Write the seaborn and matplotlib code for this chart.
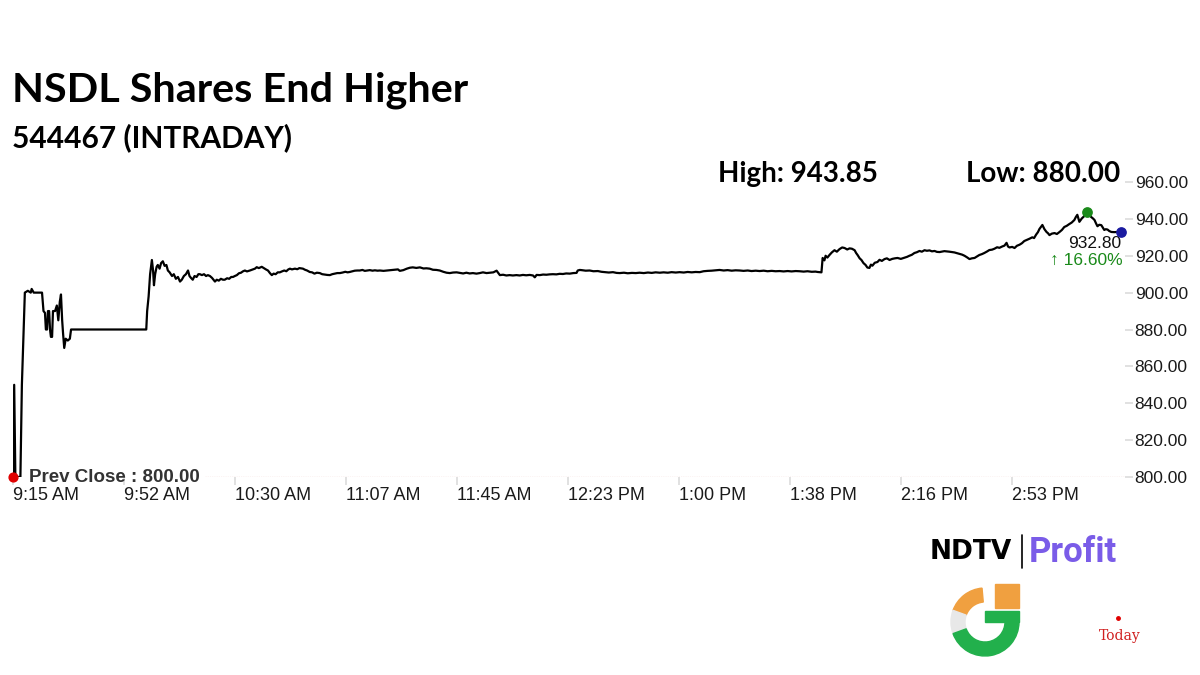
import pandas as pd
import seaborn as sns
import matplotlib.pyplot as plt
from matplotlib.patches import Wedge, Rectangle

# (minutes after 9:15 AM, price)
opening = [
    (0, 800), (0.4, 850), (0.8, 800), (2.5, 800), (3.0, 850), (4.0, 900),
    (5.0, 901), (6.0, 900), (6.3, 902), (7.0, 900), (9.8, 900), (10.3, 890),
    (10.8, 889), (11.1, 880), (11.5, 880), (11.8, 890), (12.2, 890),
    (12.5, 880), (12.8, 876), (13.2, 876), (13.5, 890), (14.2, 890),
    (14.8, 893), (15.3, 885), (15.8, 895), (16.2, 899), (16.6, 885),
    (16.9, 878), (17.3, 870), (17.8, 875), (18.5, 874), (19.2, 875),
    (19.6, 880), (20.0, 880), (45.0, 880),
]
morning = [
    (45.3, 890), (45.8, 898), (46.3, 910), (46.9, 917.7), (47.3, 912),
    (47.6, 904), (48.0, 910), (48.5, 914), (48.9, 915), (49.5, 913),
    (50.0, 916), (50.6, 917), (51.2, 914.5), (51.8, 915), (52.3, 912),
    (52.9, 911), (53.7, 909), (54.3, 910), (55.0, 907.5), (55.7, 908.5),
    (56.4, 906), (57.0, 907), (57.7, 909), (58.4, 910), (59.1, 912),
    (59.6, 909), (60.1, 908), (60.7, 907), (61.3, 909), (62.0, 908.5),
    (62.6, 910), (63.1, 910), (63.8, 909.5), (64.5, 910), (65.2, 909),
    (65.8, 909.5), (66.5, 909), (67.2, 908), (68.2, 906), (68.8, 907),
    (69.5, 906.5), (70.2, 907.5), (70.9, 907), (71.5, 907), (72.3, 907.8),
    (73.0, 907.5), (73.7, 908.5), (74.3, 908.5), (74.9, 909), (75.6, 909.5),
    (76.3, 910.5), (77.0, 910.8), (77.6, 911.5), (78.3, 912), (79.0, 911.5),
    (80.0, 912), (80.8, 912.5), (81.7, 913), (82.3, 913.8), (83.0, 913.3),
    (84.0, 914), (84.8, 913.2), (85.5, 912.5), (86.1, 912), (86.8, 910.5),
    (87.4, 909.5), (88.0, 910.3), (88.7, 910), (89.4, 911), (90.1, 911),
    (90.8, 911.5), (91.6, 912), (92.3, 911.6), (92.9, 912.5), (93.5, 913),
    (94.2, 912.6), (95.2, 913), (96.0, 912.7), (96.7, 913.3), (97.9, 913),
    (98.6, 912.4), (99.3, 912), (100.2, 911.2), (101.0, 911),
    (101.8, 910.3), (102.6, 910.8), (103.6, 910.6), (104.4, 910),
    (105.2, 909.8), (106.1, 909.6), (107.0, 909.5), (107.8, 910),
    (108.6, 910.3), (109.5, 910.6), (110.4, 910.6), (111.3, 910.9),
    (112.2, 911.3), (113.0, 911), (113.7, 911.2), (114.6, 911.6),
    (115.4, 911.9), (116.3, 912), (117.1, 912), (118.0, 912.3),
    (118.8, 911.8), (119.7, 912), (120.5, 912.2), (121.4, 911.9),
    (122.2, 912.1), (123.1, 911.9), (123.9, 912), (125.1, 911.8),
    (126.4, 912), (127.6, 912.2), (128.9, 912.4), (130.0, 912.6),
    (130.6, 911.8), (131.8, 912.2), (133.0, 913), (134.0, 913.5),
    (135.0, 913.7), (136.2, 913.4), (137.4, 913.7), (138.6, 913.1),
    (139.6, 913.2), (140.7, 913), (141.8, 912.4), (143.0, 912.3),
    (144.1, 912), (145.3, 911.3), (146.4, 910.8), (147.5, 910.6),
    (148.6, 910.9), (149.8, 911), (150.9, 910.7), (152.0, 910.4),
    (153.1, 910.8), (154.2, 910.4), (155.3, 910.6), (156.5, 910.3),
    (157.6, 910.6), (158.7, 911), (159.9, 910.6), (161.0, 910.8),
    (162.2, 911), (163.3, 911.9),
]
midday = [
    (164.4, 909.5), (165.5, 909.7), (166.6, 909.3), (167.7, 909.5),
    (168.8, 909.3), (170.0, 909.5), (171.1, 909.3), (172.2, 909.6),
    (173.3, 909.4), (174.5, 909.6), (175.6, 909.3), (176.2, 908.3),
    (176.8, 909.6), (177.9, 909.5), (179.0, 909.8), (180.1, 909.7),
    (181.2, 909.9), (182.3, 910), (183.5, 909.9), (184.6, 910.2),
    (185.7, 910.1), (186.8, 910.4), (188.0, 910.3), (189.2, 910.6),
    (190.3, 910.7), (190.7, 912), (191.4, 912.3), (192.0, 912.2),
    (193.4, 911.9), (194.7, 912), (196.0, 911.6), (197.5, 911.7),
    (198.7, 911.3), (199.8, 911.1), (201.2, 910.9), (202.6, 911.1),
    (203.8, 910.7), (204.9, 910.6), (206.3, 910.8), (207.6, 910.5),
    (209.0, 910.7), (210.3, 910.6), (211.6, 910.8), (213.0, 910.6),
    (214.4, 910.9), (215.7, 910.7), (217.0, 911), (218.4, 910.8),
    (219.7, 911), (221.1, 910.8), (222.4, 911.1), (223.8, 910.9),
    (225.1, 911.1), (226.5, 910.9), (227.8, 911.2), (229.2, 911),
    (230.5, 911.2), (231.9, 911.1), (233.2, 911.6), (234.6, 911.8),
    (235.9, 911.9), (237.3, 912.1), (238.6, 912.3), (240.0, 912),
    (241.3, 912.2), (242.7, 911.9), (244.0, 912.1), (245.4, 912),
    (246.7, 911.8), (248.1, 912), (249.4, 911.7), (250.8, 911.9),
    (252.1, 911.7), (253.5, 911.9), (254.8, 911.6), (256.2, 911.8),
    (257.5, 911.6), (258.9, 911.7), (260.2, 911.5), (261.6, 911.7),
    (262.9, 911.5), (264.3, 911.7), (265.6, 911.6), (267.0, 911.4),
    (268.3, 911.6), (269.7, 911.3), (271.0, 911.4), (271.7, 911.2),
    (273.0, 911.0),
]
afternoon = [
    (273.4, 918.8), (274.0, 917.5), (274.4, 920), (275.0, 919),
    (275.7, 920.4), (276.5, 921.8), (277.4, 923), (278.2, 922.2),
    (279.1, 923.6), (280.0, 924.5), (280.8, 924.2), (281.7, 923.4),
    (282.5, 924), (283.3, 923.8), (284.2, 923), (284.7, 921.5),
    (285.2, 920.4), (285.9, 918.6), (286.5, 917.7), (287.2, 916),
    (287.9, 915), (288.5, 913.6), (289.2, 913.4), (289.7, 915.2),
    (290.2, 914.6), (291.0, 916.2), (291.9, 916.6), (292.6, 917.8),
    (293.4, 917.2), (294.3, 918.2), (295.1, 918.6), (296.0, 917.7),
    (296.9, 918.3), (297.8, 918.6), (298.7, 918.8), (299.8, 918.3),
    (301.0, 918.9), (301.9, 919.4), (302.7, 920), (303.5, 920.5),
    (304.4, 921.5), (305.2, 921.9), (306.1, 922.6), (306.9, 922.2),
    (307.8, 923), (308.6, 922.7), (309.5, 922.9), (310.3, 922.4),
    (311.2, 922.6), (312.0, 922.1), (312.9, 922), (314.5, 922.5),
    (316.2, 922.2), (317.9, 921.8), (319.6, 921), (320.5, 920.6),
    (321.3, 920), (322.1, 919.2), (323.0, 918.2), (323.8, 918.6),
    (324.7, 918.8), (325.5, 919.6), (326.3, 920.4), (327.2, 920.9),
    (328.0, 921.5), (328.9, 922.3), (329.7, 923.1), (330.6, 923.3),
    (331.4, 923.8), (332.3, 924.6), (333.1, 924.3), (334.0, 925),
    (334.8, 925.5), (335.5, 927), (336.0, 925), (336.5, 924.5),
    (337.4, 924.8), (338.2, 924.2), (339.0, 925.4), (339.9, 926),
    (340.7, 926.8), (341.5, 928), (342.2, 928.5), (343.2, 929.2),
    (344.2, 930), (344.8, 929.6), (345.5, 931.5), (346.1, 932.8),
    (346.6, 934.5), (347.1, 935.6), (347.6, 936.7), (348.3, 934.4),
    (349.0, 932.9), (349.5, 932.2), (350.0, 931.2), (350.8, 932),
    (351.7, 932.3), (352.5, 931.8), (353.4, 932.9), (354.2, 934),
    (355.0, 935.6), (355.8, 936.2), (356.7, 937.2), (357.5, 938),
    (358.4, 939.4), (358.9, 941), (359.4, 942.2), (359.8, 940),
    (360.1, 938.4), (360.9, 940.2), (361.8, 941.6), (362.5, 943.85),
    (363.3, 942.3), (364.1, 941), (364.7, 940.2), (365.2, 939.4),
    (365.7, 937.6), (366.2, 936), (366.8, 936.8), (367.5, 936.6),
    (368.0, 935.3), (368.5, 934), (369.0, 934.4), (369.6, 934.2),
    (370.2, 933.4), (370.9, 932.9), (371.9, 932.8), (372.9, 932.9),
    (373.6, 932.8), (374.3, 932.8),
]

tick_minutes = [0, 37.5, 75, 112.5, 150, 187.5, 225, 262.5, 300, 337.5]
tick_labels = ['9:15 AM', '9:52 AM', '10:30 AM', '11:07 AM', '11:45 AM',
               '12:23 PM', '1:00 PM', '1:38 PM', '2:16 PM', '2:53 PM']
price_ticks = [800, 820, 840, 860, 880, 900, 920, 940, 960]

prev_close = 800.00
day_high = 943.85
day_low = 880.00
last_price = 932.80
change_pct = 16.60

title = 'NSDL Shares End Higher'
subtitle = '544467 (INTRADAY)'

sns.set_theme(style='white')
plt.rcParams['font.family'] = ['Liberation Sans', 'DejaVu Sans']

df = pd.DataFrame(opening + morning + midday + afternoon,
                  columns=['minute', 'price'])
high_row = df.loc[df['price'].idxmax()]
last_row = df.iloc[-1]

fig = plt.figure(figsize=(12, 6.75), dpi=100)
ax = fig.add_axes([13 / 1200, 198 / 675, 1112 / 1200, 295 / 675])

sns.lineplot(data=df, x='minute', y='price', ax=ax, color='black',
             linewidth=1.6, estimator=None, sort=False)

# previous close reference line
ax.axhline(prev_close, xmin=(205 - 13) / 1112, xmax=1.0, color='#c0392b',
           linestyle=(0, (1, 1)), linewidth=0.8)
ax.scatter([0], [prev_close], s=40, color='#e00000', zorder=5, clip_on=False)
ax.text(5.5, prev_close, f'Prev Close : {prev_close:.2f}', fontsize=13.5,
        fontweight='bold', color='#333333', va='center', ha='left')

# day high and last traded markers
ax.scatter([high_row['minute']], [high_row['price']], s=45, color='#1a8a1a',
           zorder=5, clip_on=False)
ax.scatter([last_row['minute']], [last_row['price']], s=45,
           color='#1a1aa0', zorder=5, clip_on=False)
ax.text(last_row['minute'] - 9, last_price - 2, f'{last_price:.2f}',
        fontsize=12.5, color='#111111', ha='center', va='top')
ax.text(last_row['minute'] + 0.5, last_price - 11.5,
        f'\u2191 {change_pct:.2f}%', fontsize=12.5, color='#1a8a1a',
        ha='right', va='top')

ax.set_xlim(0, 375.5)
ax.set_ylim(800, 960)
ax.set_xticks(tick_minutes)
ax.set_xticklabels(tick_labels, ha='left', fontsize=13, color='#1a1a1a')
ax.yaxis.tick_right()
ax.set_yticks(price_ticks)
ax.set_yticklabels([f'{p:.2f}' for p in price_ticks], fontsize=12.5,
                   color='#1a1a1a')
ax.tick_params(axis='x', length=6, color='#dddddd', pad=1, bottom=True)
ax.tick_params(axis='y', length=6, color='#dddddd', pad=1, right=True)
ax.set_xlabel('')
ax.set_ylabel('')
for side in ['top', 'left', 'right', 'bottom']:
    ax.spines[side].set_visible(False)
ax.grid(False)

# headings
head_font = ['Lato', 'DejaVu Sans']
fig.text(12 / 1200, 1 - 90 / 675, title, fontsize=29.8, fontweight='bold',
         family=head_font, color='black', va='center', ha='left')
fig.text(12 / 1200, 1 - 138 / 675, subtitle, fontsize=21.5,
         fontweight='bold', family=head_font, color='black', va='center',
         ha='left')
fig.text(718 / 1200, 1 - 174 / 675, f'High: {day_high:.2f}', fontsize=20,
         fontweight='bold', family=head_font, color='black', va='center')
fig.text(1120 / 1200, 1 - 174 / 675, f'Low: {day_low:.2f}', fontsize=20,
         fontweight='bold', family=head_font, color='black', va='center',
         ha='right')

# branding
fig.text(1012 / 1200, 1 - 552 / 675, 'NDTV', fontsize=19, fontweight='heavy',
         family=['DejaVu Sans'], color='black', ha='right', va='center')
fig.add_artist(plt.Line2D([1022 / 1200, 1022 / 1200],
                          [1 - 535 / 675, 1 - 568 / 675], color='black',
                          linewidth=1.2))
fig.text(1029 / 1200, 1 - 552 / 675, 'Profit', fontsize=25,
         fontweight='bold', family=['Roboto', 'DejaVu Sans'],
         color='#7a5ce8', ha='left', va='center')
fig.text(1120 / 1200, 1 - 636 / 675, 'Today', fontsize=10, color='#d02020',
         family=['DejaVu Serif'], ha='center', va='center')
fig.add_artist(plt.Line2D([1118 / 1200], [1 - 618 / 675], marker='o',
                          markersize=2.5, color='#e00000'))

logo = fig.add_axes([945 / 1200, 1 - 660 / 675, 80 / 1200, 80 / 675])
logo.set_xlim(-1, 1)
logo.set_ylim(-1, 1)
logo.set_aspect('equal')
logo.axis('off')
logo.add_patch(Wedge((0, -0.05), 0.85, 95, 160, width=0.35,
                     color='#f0a040'))
logo.add_patch(Wedge((0, -0.05), 0.85, 160, 200, width=0.35,
                     color='#e8e8e8'))
logo.add_patch(Wedge((0, -0.05), 0.85, 200, 360, width=0.35,
                     color='#22b04c'))
logo.add_patch(Rectangle((0.0, -0.05), 0.85, 0.28, color='#22b04c'))
logo.add_patch(Rectangle((0.25, 0.3), 0.6, 0.6, color='#f0a040'))

fig.savefig('out.png', dpi=100)
